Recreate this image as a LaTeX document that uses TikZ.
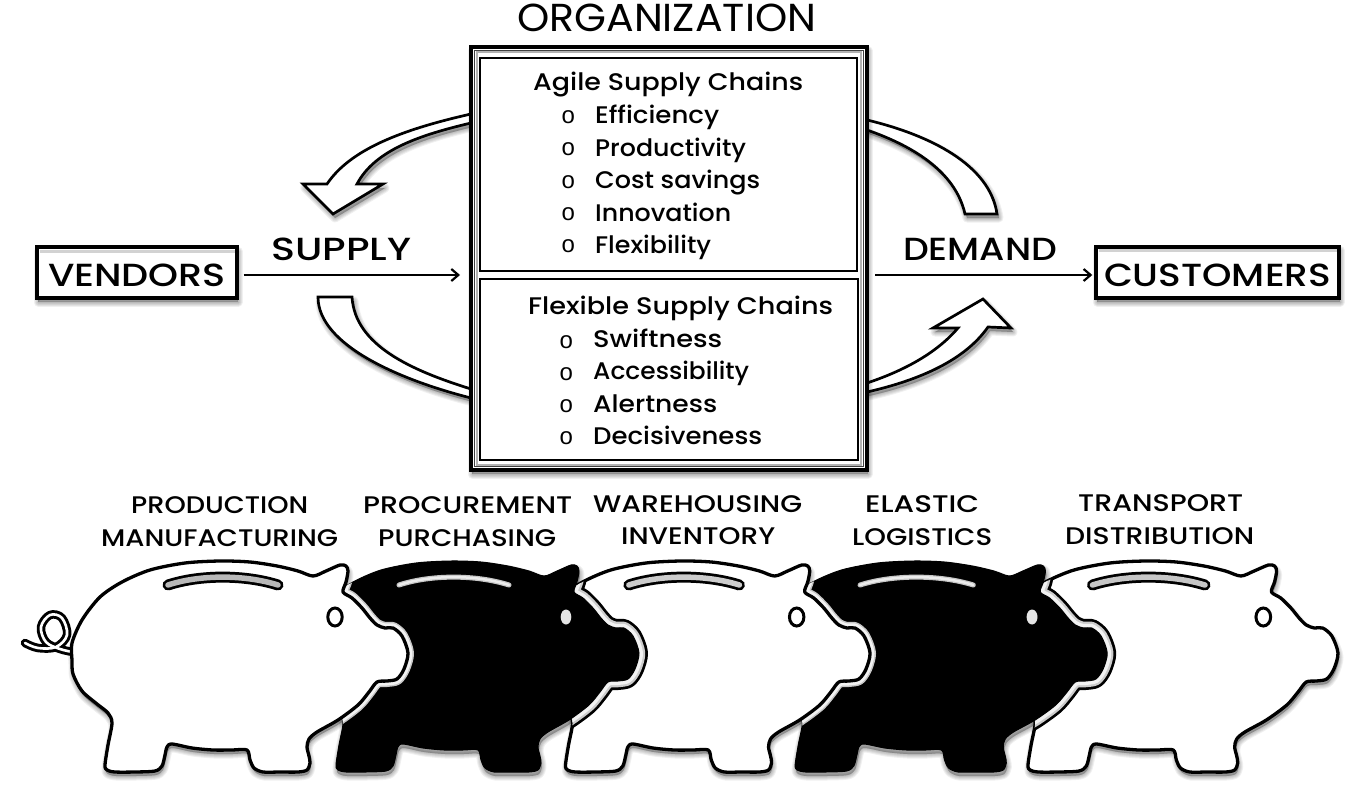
\documentclass[tikz,border=0pt]{standalone}
\usepackage{fontspec}
\usepackage{graphicx}
\setmainfont{Poppins Medium}
\newfontfamily\bulletfont{Liberation Sans}
\newfontfamily\regfont{Poppins}
\usetikzlibrary{arrows.meta}
\newcommand\fitw[3]{\resizebox{#1pt}{\height}{\fontsize{#2}{#2}\selectfont #3}}
\newcommand\pigpath{plot[smooth cycle,tension=.5] coordinates {(72,643) (82,620) (100,597) (122,582) (150,570) (185,563) (220,561) (250,562) (277,566) (298,571) (313,576) (326,571) (340,565) (346,566) (348,571) (346,582) (343,592) (352,598) (362,608) (370,618) (377,625) (385,628) (393,628) (402,636) (408,653) (404,669) (397,679) (387,681) (377,682) (369,692) (358,705) (338,720) (317,732) (309,739) (307,747) (309,756) (310,763) (307,770) (298,772) (280,772) (263,772) (254,768) (250,760) (247,750) (232,750) (213,750) (192,748) (172,744) (167,747) (165,755) (162,766) (155,771) (135,772) (115,772) (107,770) (105,765) (108,745) (112,723) (108,713) (97,704) (82,691) (73,674) (72,660)}}
\newcommand\slotpath{(168,585) .. controls (200,574.5) and (245,574.5) .. (278,585)}
\newcommand\softshadow[3]{\foreach \w in {9,7,5,3,1}{\path[shift={(#1,#2)},draw=black,fill=black,line width=\w pt,opacity=.06,line join=round] #3;}}
\tikzset{
 x=1pt,y=-1pt,
 tx/.style={anchor=base west,inner sep=0pt,text=black},
 framebox/.style={draw=black,line width=3.4pt,fill=white,inner sep=0pt,anchor=base,text height=39pt,text depth=12pt,align=center},
 conn/.style={draw=black,line width=2.2pt,-{Straight Barb[length=7pt,width=12pt,line width=2.2pt]}},
 blockarrow/.style={draw=black,fill=white,line width=2.7pt,line join=miter},
 p1/.style={shift={(0,0)}},
 p2/.style={shift={(231,0)}},
 p3/.style={shift={(460,0)},xscale=1.005},
 p4/.style={shift={(687,0)},xscale=1.03},
 p5/.style={shift={(920.6,0)},xscale=1.023},
 whitepig/.style={draw=black,fill=white,line width=3.3pt,line join=round},
 blackpig/.style={draw=black,fill=black,line width=1pt,line join=round},
}
\newcommand\whitepig[2]{
 \begin{scope}[#1]
  \path[whitepig] \pigpath;
  \draw[black,line width=11pt,line cap=round] \slotpath;
  \draw[#2,line width=5.5pt,line cap=round] \slotpath;
  \draw[black,fill=white,line width=3pt] (335,617) ellipse [x radius=7.2,y radius=9];
 \end{scope}}
\newcommand\blackpig[1]{
 \begin{scope}[#1]
  \path[blackpig] \pigpath;
  \draw[gray!45,line width=5pt,line cap=round] \slotpath;
  \draw[gray!15,line width=2.5pt,line cap=round] \slotpath;
  \fill[gray!20] (335,617) ellipse [x radius=5.3,y radius=7.5];
 \end{scope}}
\begin{document}
\begin{tikzpicture}
\useasboundingbox (0,0) rectangle (1366,792);
\fill[white] (0,0) rectangle (1366,792);

% --- block arrows ---
\newcommand\arrowUL{(471,114) .. controls (400,130) and (350,150) .. (327,184) -- (303,184) -- (333,214) -- (383,184) -- (357,184) .. controls (375,150) and (420,135) .. (471,123) -- cycle}
\newcommand\arrowLL{(318,297) .. controls (318,345) and (400,380) .. (471,398) -- (471,389) .. controls (410,370) and (355,345) .. (352,297) -- cycle}
\newcommand\arrowUR{(867,120) .. controls (930,135) and (990,165) .. (997,214) -- (965,214) .. controls (955,170) and (910,145) .. (867,130) -- cycle}
\newcommand\arrowLR{(867,392) .. controls (920,380) and (965,360) .. (988,327) -- (1011,328) -- (983,299) -- (933,328) -- (958,328) .. controls (935,355) and (900,372) .. (867,383) -- cycle}
\softshadow{2}{4}{\arrowUL}
\softshadow{2}{4}{\arrowLL}
\softshadow{2}{4}{\arrowUR}
\softshadow{2}{4}{\arrowLR}
\path[blockarrow] \arrowUL;
\path[blockarrow] \arrowLL;
\path[blockarrow] \arrowUR;
\path[blockarrow] \arrowLR;

% --- organization frame ---
\softshadow{1}{4}{(471,47) rectangle (867,470)}
\draw[black,fill=white,line width=3.5pt] (471,47) rectangle (867,470);
\draw[black!75,line width=1.2pt] (474.8,50.5) rectangle (863.2,466.5);
\draw[gray!60,line width=2pt] (476.6,52.3) rectangle (861.4,464.7);
\node[draw=black,line width=2.5pt,minimum width=377pt,minimum height=213pt,inner sep=0pt] (agile) at (668.5,164.5) {};
\node[draw=black,line width=2.5pt,minimum width=378pt,minimum height=181pt,inner sep=0pt] (flexible) at (669,369.5) {};

% --- vendors / customers ---
\softshadow{1}{4}{(37,247) rectangle (237,298)}
\softshadow{1}{4}{(1096,246) rectangle (1339,298)}
\node[framebox,minimum width=200pt] (vendors) at (137,286) {\fitw{178}{32}{VENDORS}};
\node[framebox,minimum width=243pt] (customers) at (1217.5,286) {\fitw{227}{32}{CUSTOMERS}};
\draw[gray!35,line width=3pt] (39.5,251) -- (234.5,251);
\draw[gray!35,line width=3pt] (1098.5,250) -- (1336.5,250);

\coordinate (supplyend) at (460,275);
\coordinate (demandstart) at (875,275);
\draw[conn,shorten <=5pt] (vendors.east |- supplyend) -- (supplyend);
\draw[conn,shorten >=2pt] (demandstart) -- (customers.west |- demandstart);

% --- top texts ---
\node[tx] (torg) at (517,32) {\regfont\fitw{299}{39}{ORGANIZATION}};
\node[tx] (tsupply) at (271,260) {\fitw{140}{32}{SUPPLY}};
\node[tx] (tdemand) at (903,260) {\fitw{154}{32}{DEMAND}};
\node[tx] (tagile) at (533,91) {\fitw{270}{24}{Agile Supply Chains}};
\node[tx] (t1) at (595,124) {\fitw{124}{24}{Efficiency}};
\node[tx] (t2) at (595,156) {\fitw{151}{24}{Productivity}};
\node[tx] (t3) at (595,188) {\fitw{165}{24}{Cost savings}};
\node[tx] (t4) at (595,221) {\fitw{136}{24}{Innovation}};
\node[tx] (t5) at (595,253) {\fitw{116}{24}{Flexibility}};
\node[tx] (tflex) at (528,314) {\fitw{305}{24}{Flexible Supply Chains}};
\node[tx] (t6) at (593,347) {\fitw{129}{24}{Swiftness}};
\node[tx] (t7) at (593,379) {\fitw{156}{24}{Accessibility}};
\node[tx] (t8) at (593,412) {\fitw{124}{24}{Alertness}};
\node[tx] (t9) at (593,444) {\fitw{169}{24}{Decisiveness}};
\foreach \n/\bx/\by in {b1/561.5/123.5,b2/561.5/155.5,b3/561.5/188,b4/561.5/220,b5/561.5/252,b6/559.5/348,b7/559.5/380,b8/559.5/412,b9/559.5/444}
  \node[tx] (\n) at (\bx,\by) {\bulletfont\fontsize{24}{24}\selectfont o};

% --- pig labels ---
\node[tx] (l1a) at (131,513) {\fitw{177}{24}{PRODUCTION}};
\node[tx] (l1b) at (101,546) {\fitw{237}{24}{MANUFACTURING}};
\node[tx] (l2a) at (363,513) {\fitw{209}{24}{PROCUREMENT}};
\node[tx] (l2b) at (378,546) {\fitw{178}{24}{PURCHASING}};
\node[tx] (l3a) at (593,512) {\fitw{209}{24}{WAREHOUSING}};
\node[tx] (l3b) at (621,544) {\fitw{154}{24}{INVENTORY}};
\node[tx] (l4a) at (865,512) {\fitw{114}{24}{ELASTIC}};
\node[tx] (l4b) at (852,545) {\fitw{140}{24}{LOGISTICS}};
\node[tx] (l5a) at (1078,511) {\fitw{165}{24}{TRANSPORT}};
\node[tx] (l5b) at (1065,544) {\fitw{189}{24}{DISTRIBUTION}};

% --- pig 5 ---
\begin{scope}[p5] \softshadow{1}{4}{\pigpath} \end{scope}
\whitepig{p5}{gray!45}
% pig 4 over pig 5
\begin{scope}[p4] \softshadow{1}{4}{\pigpath} \end{scope}
\begin{scope}
 \begin{scope}[p5] \clip \pigpath;
 \begin{scope}[xscale=1/1.023,shift={(-920.6,0)}]
  \begin{scope}[p4]
   \path[draw=black,line width=18pt,line join=round] \pigpath;
   \path[draw=gray!40,line width=12.5pt,line join=round] \pigpath;
   \path[draw=gray!10,line width=8pt,line join=round] \pigpath;
  \end{scope}
 \end{scope}
 \end{scope}
\end{scope}
\blackpig{p4}
% pig 3 over pig 4
\begin{scope}[p3] \softshadow{1}{4}{\pigpath} \end{scope}
\begin{scope}
 \begin{scope}[p4] \clip \pigpath;
 \begin{scope}[xscale=1/1.03,shift={(-687,0)}]
  \begin{scope}[p3]
   \path[draw=gray!45,line width=12pt,line join=round] \pigpath;
   \path[draw=gray!10,line width=9pt,line join=round] \pigpath;
  \end{scope}
 \end{scope}
 \end{scope}
\end{scope}
\whitepig{p3}{gray!40}
% pig 2 over pig 3
\begin{scope}[p2] \softshadow{1}{4}{\pigpath} \end{scope}
\begin{scope}
 \begin{scope}[p3] \clip \pigpath;
 \begin{scope}[xscale=1/1.005,shift={(-460,0)}]
  \begin{scope}[p2]
   \path[draw=black,line width=18pt,line join=round] \pigpath;
   \path[draw=gray!40,line width=12.5pt,line join=round] \pigpath;
   \path[draw=gray!10,line width=8pt,line join=round] \pigpath;
  \end{scope}
 \end{scope}
 \end{scope}
\end{scope}
\blackpig{p2}
% pig 1 over pig 2
\begin{scope}[p1] \softshadow{1}{4}{\pigpath} \end{scope}
\begin{scope}
 \begin{scope}[p2] \clip \pigpath;
 \begin{scope}[shift={(-231,0)}]
   \path[draw=gray!45,line width=12pt,line join=round] \pigpath;
   \path[draw=gray!10,line width=9pt,line join=round] \pigpath;
 \end{scope}
 \end{scope}
\end{scope}
% tail
\newcommand\tailpath{plot[smooth,tension=.6] coordinates {(25,643) (38,648) (56,647) (67,635) (62,618) (50,615) (41,627) (46,642) (60,649) (73,652)}}
\draw[black,line width=8.5pt,line cap=round,line join=round] \tailpath;
\draw[white,line width=2.6pt,line cap=round,line join=round] \tailpath;
\whitepig{p1}{gray!55}
\end{tikzpicture}
\end{document}
